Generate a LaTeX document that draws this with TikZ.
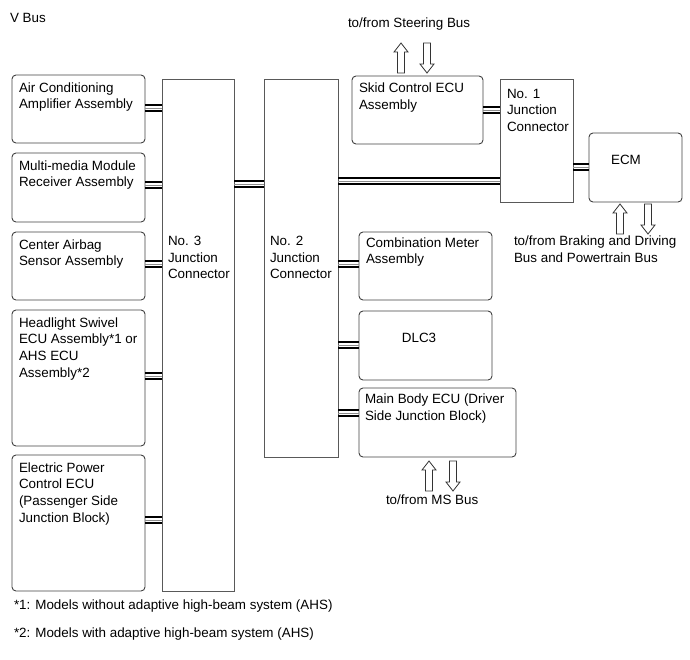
\documentclass[tikz,border=0pt]{standalone}
\usepackage{fontspec}
\setmainfont{Liberation Sans}
\begin{document}
\begin{tikzpicture}[x=1pt,y=-1pt,
  rbox/.style={draw=black!75, line width=0.9pt, rounded corners=4pt, anchor=north west, inner sep=0pt, outer sep=0pt},
  jbox/.style={draw=black!65, line width=0.9pt, anchor=north west, inner sep=0pt, outer sep=0pt},
  txt/.style={anchor=north west, inner sep=0pt, outer sep=0pt, align=left, font=\fontsize{13.4}{16.7}\selectfont},
  ctxt/.style={inner sep=0pt, outer sep=0pt, font=\fontsize{13.4}{16.7}\selectfont},
  busline/.style={line width=1.8pt, black},
  midline/.style={line width=0.8pt, black!45},
  harrow/.style={draw=black!80, line width=0.8pt, fill=white}
]
\useasboundingbox (0,0) rectangle (690,659);

\newcommand\tripconn[3]{%
  \draw[busline] ([yshift=3.2pt]#1.east |- 0,#3) -- ([yshift=3.2pt]#2.west |- 0,#3);
  \draw[midline] (#1.east |- 0,#3) -- (#2.west |- 0,#3);
  \draw[busline] ([yshift=-3.2pt]#1.east |- 0,#3) -- ([yshift=-3.2pt]#2.west |- 0,#3);
}
\newcommand\uparrowshape[2]{% x, tip y
  \draw[harrow] (#1,#2) -- ++(7,9) -- ++(-3.5,0) -- ++(0,21) -- ++(-7,0) -- ++(0,-21) -- ++(-3.5,0) -- cycle;}
\newcommand\downarrowshape[2]{% x, top y
  \draw[harrow] (#1,#2+30) -- ++(7,-9) -- ++(-3.5,0) -- ++(0,-21) -- ++(-7,0) -- ++(0,21) -- ++(-3.5,0) -- cycle;}

% title
\node[txt] (title) at (10,13) {V Bus};

% left boxes
\node[rbox, minimum width=133pt, minimum height=68pt] (ac) at (12,75) {};
\node[rbox, minimum width=133pt, minimum height=69pt] (mm) at (12,153) {};
\node[rbox, minimum width=133pt, minimum height=68pt] (ca) at (12,232) {};
\node[rbox, minimum width=133pt, minimum height=136pt] (hl) at (12,310) {};
\node[rbox, minimum width=133pt, minimum height=136pt] (ep) at (12,455) {};

\node[txt] (acl) at ([shift={(7pt,-7.5pt)}]ac.north west) {Air Conditioning\\Amplifier Assembly};
\node[txt] (mml) at ([shift={(7pt,-7.5pt)}]mm.north west) {Multi-media Module\\Receiver Assembly};
\node[txt] (cal) at ([shift={(7pt,-7.5pt)}]ca.north west) {Center Airbag\\Sensor Assembly};
\node[txt] (hll) at ([shift={(7pt,-7.5pt)}]hl.north west) {Headlight Swivel\\ECU Assembly*1 or\\AHS ECU\\Assembly*2};
\node[txt] (epl) at ([shift={(7pt,-7.5pt)}]ep.north west) {Electric Power\\Control ECU\\(Passenger Side\\Junction Block)};

% junction connectors
\node[jbox, minimum width=72pt, minimum height=512pt] (j3) at (162,79) {};
\node[jbox, minimum width=74pt, minimum height=378pt] (j2) at (264,79) {};
\node[jbox, minimum width=73pt, minimum height=123pt] (j1) at (500,79) {};

\node[txt] (j3l) at (168,236) {No. 3\\Junction\\Connector};
\node[txt] (j2l) at (270,236) {No. 2\\Junction\\Connector};
\node[txt] (j1l) at (507,89) {No. 1\\Junction\\Connector};

% right boxes
\node[rbox, minimum width=131pt, minimum height=68pt] (sk) at (352,76) {};
\node[rbox, minimum width=93pt, minimum height=69pt] (ecm) at (589,133) {};
\node[rbox, minimum width=133pt, minimum height=68pt] (cm) at (359,232) {};
\node[rbox, minimum width=133pt, minimum height=69pt] (dlc) at (359,311) {};
\node[rbox, minimum width=157pt, minimum height=69pt] (mb) at (359,388) {};

\node[txt] (skl) at ([shift={(7pt,-7pt)}]sk.north west) {Skid Control ECU\\Assembly};
\node[ctxt] (ecml) at (626,160) {ECM};
\node[txt] (cml) at ([shift={(7pt,-5.5pt)}]cm.north west) {Combination Meter\\Assembly};
\node[ctxt] (dlcl) at (419,338) {DLC3};
\node[txt] (mbl) at ([shift={(6pt,-6pt)}]mb.north west) {Main Body ECU (Driver\\Side Junction Block)};

% bus connectors
\tripconn{ac}{j3}{108}
\tripconn{mm}{j3}{185}
\tripconn{ca}{j3}{264}
\tripconn{hl}{j3}{376}
\tripconn{ep}{j3}{520}
\tripconn{j3}{j2}{184}
\tripconn{j2}{j1}{181}
\tripconn{sk}{j1}{110}
\tripconn{j1}{ecm}{167}
\tripconn{j2}{cm}{264}
\tripconn{j2}{dlc}{345}
\tripconn{j2}{mb}{413}

% external bus arrows
\uparrowshape{401}{43}
\downarrowshape{427}{43}
\node[txt] (stl) at (348,18) {to/from Steering Bus};

\uparrowshape{620}{204}
\downarrowshape{648}{204}
\node[txt] (brl) at (514,236) {to/from Braking and Driving\\Bus and Powertrain Bus};

\uparrowshape{429}{461}
\downarrowshape{453}{461}
\node[txt] (msl) at (386,495) {to/from MS Bus};

% footnotes
\node[txt] (fn1) at (14,600) {*1: Models without adaptive high-beam system (AHS)};
\node[txt] (fn2) at (14,628) {*2: Models with adaptive high-beam system (AHS)};
\end{tikzpicture}
\end{document}
